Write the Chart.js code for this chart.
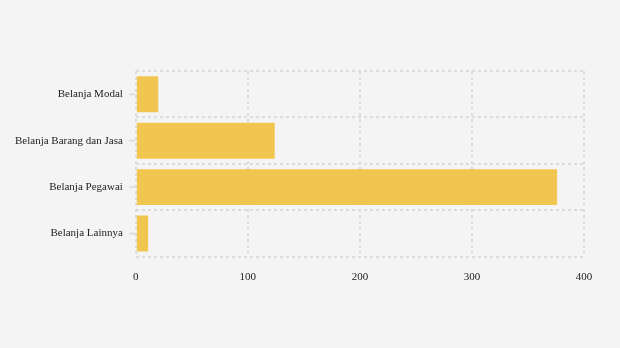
<!DOCTYPE html>
<html><head><meta charset="utf-8">
<script src="https://cdn.jsdelivr.net/npm/chart.js@4"></script>
<style>html,body{margin:0;padding:0;background:#f4f4f4;}#w{width:620px;height:348px;}</style>
</head><body><div id="w"><canvas id="c"></canvas></div>
<script>
const categories = ["Belanja Modal", "Belanja Barang dan Jasa", "Belanja Pegawai", "Belanja Lainnya"];
const values = [20, 124, 376, 11];
const xTicks = [0, 100, 200, 300, 400];

Chart.defaults.font.family = "'Liberation Serif', 'DejaVu Serif', serif";
Chart.defaults.font.size = 11;
Chart.defaults.color = "#222";

const centerTicks = {
  id: 'centerTicks',
  afterDraw(chart) {
    const y = chart.scales.y, ctx = chart.ctx, left = chart.chartArea.left;
    ctx.save();
    ctx.strokeStyle = '#dcdcdc'; ctx.lineWidth = 2;
    categories.forEach((c, i) => {
      const py = y.getPixelForValue(i);
      ctx.beginPath(); ctx.moveTo(left - 6, py); ctx.lineTo(left - 1, py); ctx.stroke();
    });
    ctx.restore();
  }
};

new Chart(document.getElementById('c'), {
  type: 'bar',
  data: { labels: categories, datasets: [{ data: values, backgroundColor: '#f0c650', barPercentage: 0.86, categoryPercentage: 0.9 }] },
  options: {
    indexAxis: 'y', responsive: true, maintainAspectRatio: false, animation: false,
    layout: { padding: { top: 71, right: 36, bottom: 50, left: 2 } },
    plugins: { legend: { display: false }, tooltip: { enabled: false } },
    scales: {
      x: { min: 0, max: 400, afterBuildTicks: s => { s.ticks = xTicks.map(v => ({ value: v })); },
        grid: { color: '#dcdcdc', lineWidth: 2, drawTicks: false },
        border: { display: false, dash: [3, 3] },
        ticks: { padding: 14, color: '#222' } },
      y: { grid: { color: '#dcdcdc', lineWidth: 2, offset: true, drawTicks: false },
        border: { display: false, dash: [3, 3] },
        ticks: { padding: 13, color: '#222' } }
    }
  },
  plugins: [centerTicks]
});
</script></body></html>
